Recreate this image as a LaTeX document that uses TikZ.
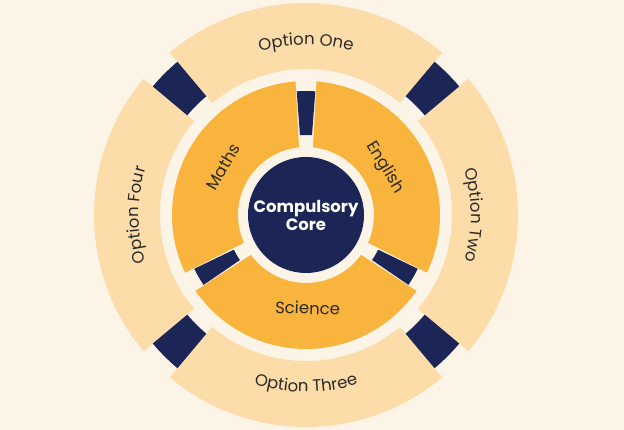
\documentclass[tikz,border=0pt]{standalone}
\usepackage{fontspec}
\setmainfont{Poppins}
\usetikzlibrary{decorations.text}
\definecolor{paper}{HTML}{FDF4E8}
\definecolor{option}{HTML}{FCDDAA}
\definecolor{subject}{HTML}{F8B43C}
\definecolor{navy}{HTML}{1B2556}
\definecolor{ink}{HTML}{2B2A28}
\newcommand{\ringfont}{\fontsize{16.5}{19}\selectfont\color{ink}}
\tikzset{
  optseg/.style={fill=option, draw=none},
  subseg/.style={fill=subject, draw=none},
  link/.style={fill=navy, draw=none},
  arclabel/.style={
    decorate,
    decoration={text along path, text align=center, text={|\ringfont|#1}}
  },
  sublabel/.style={inner sep=0pt, text=ink, font=\fontsize{16.5}{19}\selectfont},
  hub/.style={
    circle, fill=navy, minimum size=116pt, inner sep=0pt,
    text=white, align=center,
    font=\fontsize{16.5}{19}\selectfont\bfseries
  }
}

\begin{document}
\begin{tikzpicture}
  \fill[paper] (0,0) rectangle (624pt,430pt);
  \useasboundingbox (0,0) rectangle (624pt,430pt);
  \begin{scope}[shift={(306pt,215pt)}]
    % options ring
    \fill[optseg] (50:146pt) arc[start angle=50, end angle=130, radius=146pt]
      -- (130:212pt) arc[start angle=130, end angle=50, radius=212pt] -- cycle;
    \fill[optseg] (140:146pt) arc[start angle=140, end angle=220, radius=146pt]
      -- (220:212pt) arc[start angle=220, end angle=140, radius=212pt] -- cycle;
    \fill[optseg] (230:146pt) arc[start angle=230, end angle=310, radius=146pt]
      -- (310:212pt) arc[start angle=310, end angle=230, radius=212pt] -- cycle;
    \fill[optseg] (-40:146pt) arc[start angle=-40, end angle=40, radius=146pt]
      -- (40:212pt) arc[start angle=40, end angle=-40, radius=212pt] -- cycle;
    % subjects ring
    \fill[subseg] (94.5:134pt) arc[start angle=94.5, end angle=205.5, radius=134pt]
      -- (204.1:68pt) arc[start angle=204.1, end angle=95.9, radius=68pt] -- cycle;
    \fill[subseg] (214.5:134pt) arc[start angle=214.5, end angle=325.5, radius=134pt]
      -- (324.1:68pt) arc[start angle=324.1, end angle=215.9, radius=68pt] -- cycle;
    \fill[subseg] (-25.5:134pt) arc[start angle=-25.5, end angle=85.5, radius=134pt]
      -- (84.1:68pt) arc[start angle=84.1, end angle=-24.1, radius=68pt] -- cycle;
    % links
    \fill[link] (85.7:80pt) arc[start angle=85.7, end angle=94.3, radius=80pt]
      -- (94.3:124pt) arc[start angle=94.3, end angle=85.7, radius=124pt] -- cycle;
    \fill[link] (205.7:80pt) arc[start angle=205.7, end angle=214.3, radius=80pt]
      -- (214.3:124pt) arc[start angle=214.3, end angle=205.7, radius=124pt] -- cycle;
    \fill[link] (325.7:80pt) arc[start angle=325.7, end angle=334.3, radius=80pt]
      -- (334.3:124pt) arc[start angle=334.3, end angle=325.7, radius=124pt] -- cycle;
    \fill[link] (40:155pt) arc[start angle=40, end angle=50, radius=155pt]
      -- (50:200pt) arc[start angle=50, end angle=40, radius=200pt] -- cycle;
    \fill[link] (130:155pt) arc[start angle=130, end angle=140, radius=155pt]
      -- (140:200pt) arc[start angle=140, end angle=130, radius=200pt] -- cycle;
    \fill[link] (220:155pt) arc[start angle=220, end angle=230, radius=155pt]
      -- (230:200pt) arc[start angle=230, end angle=220, radius=200pt] -- cycle;
    \fill[link] (310:155pt) arc[start angle=310, end angle=320, radius=155pt]
      -- (320:200pt) arc[start angle=320, end angle=310, radius=200pt] -- cycle;
    % core
    \node[hub] (core) at (0,0) {Compulsory\\[-1pt]Core};
    % subject labels
    \node[sublabel, rotate=60] (maths) at (150:96pt) {Maths};
    \node[sublabel, rotate=-59] (english) at (31:92pt) {English};
    \node[sublabel, rotate=-2] (science) at (271:93pt) {Science};
    % option labels
    \path[arclabel={Option One}] (125:170pt) arc[start angle=125, end angle=55, radius=170pt];
    \path[arclabel={Option Two}] (35:165pt) arc[start angle=35, end angle=-35, radius=165pt];
    \path[arclabel={Option Three}] (235:177pt) arc[start angle=235, end angle=305, radius=177pt];
    \path[arclabel={Option Four}] (215:167pt) arc[start angle=215, end angle=145, radius=167pt];
  \end{scope}
\end{tikzpicture}
\end{document}
